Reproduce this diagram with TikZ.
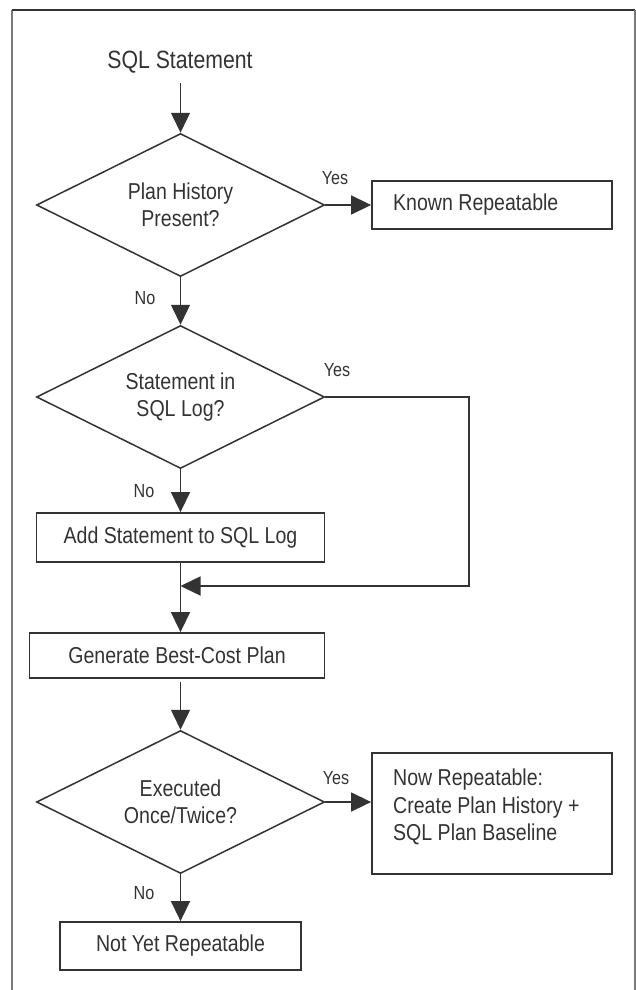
\documentclass[tikz,border=0pt]{standalone}
\usepackage{fontspec}
\setmainfont{Liberation Sans}[FakeStretch=0.85]
\usetikzlibrary{arrows.meta,shapes.geometric}
\definecolor{ink}{HTML}{333333}
\definecolor{framegray}{HTML}{7A7A7A}
\begin{document}
\begin{tikzpicture}[x=1pt,y=-1pt,
  every node/.style={text=ink},
  lab/.style={font=\fontsize{19}{22}\selectfont, inner sep=0pt},
  txt/.style={font=\fontsize{23}{27.5}\selectfont},
  dec/.style={shape=diamond, aspect=2, draw=ink, line width=1.5pt, minimum width=288pt, minimum height=143pt, inner sep=0pt, align=center, txt},
  box/.style={draw=ink, line width=1.8pt, inner sep=0pt, align=center, txt},
  arr/.style={draw=ink, line width=1.5pt, -{Triangle[length=20pt,width=19pt]}},
  ln/.style={draw=ink, line width=1.5pt}]
\useasboundingbox (0,0) rectangle (636,990);
% frame
\draw[framegray, line width=1.5pt] (12,990) -- (12,10);
\draw[ink, line width=2pt] (12,10) -- (635,10);
\draw[framegray, line width=1.5pt] (635,10) -- (635,990);

% nodes
\node[inner sep=0pt, font=\fontsize{25}{30}\selectfont] (start) at (180,62) {SQL Statement};
\node[dec] (d1) at (180.5,205) {Plan History\\Present?};
\node[box, minimum width=240pt, minimum height=48pt] (known) at (492,205) {};
\node[txt, anchor=west, inner sep=0pt] (knowntxt) at (393,205) {Known Repeatable};
\node[dec] (d2) at (180.5,397) {Statement in\\SQL Log?};
\node[box, minimum width=288pt, minimum height=49pt] (add) at (180.5,537.5) {Add Statement to SQL Log};
\node[box, minimum width=295pt, minimum height=45pt] (gen) at (177,655.5) {Generate Best-Cost Plan};
\node[dec] (d3) at (180.5,802) {Executed\\Once/Twice?};
\node[box, minimum width=240pt, minimum height=121pt] (now) at (492,813.5) {};
\node[txt, anchor=west, align=left, inner sep=0pt] (nowtxt) at (393,807) {Now Repeatable:\\Create Plan History +\\SQL Plan Baseline};
\node[box, minimum width=241pt, minimum height=48pt] (notyet) at (180.5,946) {Not Yet Repeatable};

\coordinate (r) at (469,586);
\coordinate (m) at (180.5,586);

% labels
\node[lab] (y1) at (335,178) {Yes};
\node[lab] (n1) at (145,298) {No};
\node[lab] (y2) at (337,370) {Yes};
\node[lab] (n2) at (144,491) {No};
\node[lab] (y3) at (336,778) {Yes};
\node[lab] (n3) at (144,893) {No};

% connectors
\draw[arr] ([yshift=-10pt]start.south -| d1.north) -- (d1.north);
\draw[arr] (d1.east) -- (known.west);
\draw[arr] (d1.south) -- (d2.north);
\draw[arr] (d2.south) -- (add.north);
\draw[arr] (d2.east) -| (r) -- (m);
\draw[arr] (add.south) -- (add.south |- gen.north);
\draw[arr] ([yshift=-3pt]gen.south -| d3.north) -- (d3.north);
\draw[arr] (d3.east) -- (d3.east -| now.west);
\draw[arr] (d3.south) -- (notyet.north);
\end{tikzpicture}
\end{document}
